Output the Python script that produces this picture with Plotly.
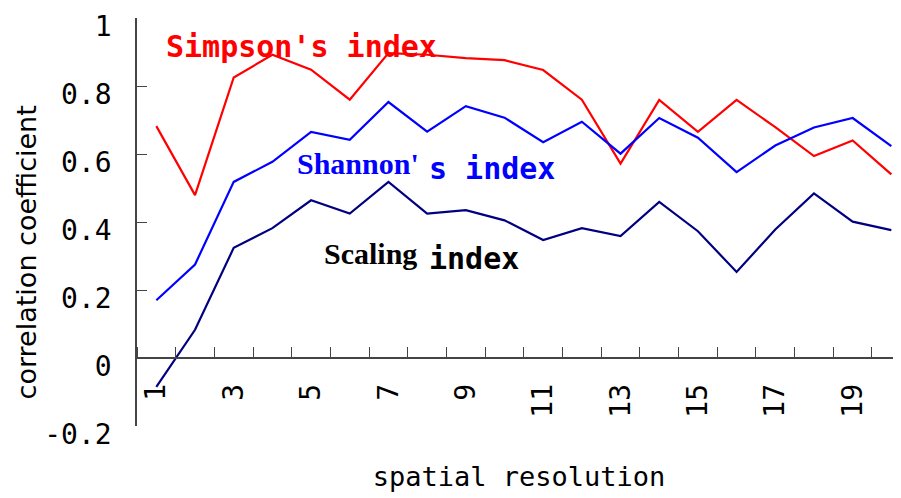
import plotly.graph_objects as go

resolution = list(range(1, 21))
simpson = [0.682, 0.479, 0.825, 0.892, 0.848, 0.760, 0.897, 0.892, 0.882, 0.876,
           0.847, 0.760, 0.572, 0.759, 0.665, 0.759, 0.679, 0.594, 0.640, 0.540]
shannon = [0.170, 0.275, 0.518, 0.577, 0.665, 0.642, 0.753, 0.666, 0.741, 0.707,
           0.635, 0.695, 0.601, 0.706, 0.648, 0.547, 0.625, 0.678, 0.706, 0.623]
scaling = [-0.085, 0.083, 0.324, 0.382, 0.464, 0.425, 0.518, 0.425, 0.435, 0.405,
           0.347, 0.382, 0.359, 0.459, 0.373, 0.253, 0.378, 0.484, 0.401, 0.376]

x_tickvals = [1, 3, 5, 7, 9, 11, 13, 15, 17, 19]
x_ticktext = ["1", "3", "5", "7", "9", "11", "13", "15", "17", "19"]
y_tickvals = [-0.2, 0, 0.2, 0.4, 0.6, 0.8, 1.0]
y_ticktext = ["-0.2", "0", "0.2", "0.4", "0.6", "0.8", "1"]

MONO = "DejaVu Sans Mono"
SERIF = "Liberation Serif"

fig = go.Figure()
fig.add_trace(go.Scatter(x=resolution, y=simpson, mode="lines", name="Simpson's index",
                         line=dict(color="#FF0000", width=2.2)))
fig.add_trace(go.Scatter(x=resolution, y=shannon, mode="lines", name="Shannon's index",
                         line=dict(color="#0000FF", width=2.2)))
fig.add_trace(go.Scatter(x=resolution, y=scaling, mode="lines", name="Scaling index",
                         line=dict(color="#000080", width=2.2)))

axis_color = "#444444"

fig.update_layout(
    width=901, height=498,
    margin=dict(l=129, r=8, t=9.5, b=80.3),
    paper_bgcolor="white", plot_bgcolor="white",
    showlegend=False,
    xaxis=dict(
        range=[0.5, 20.25], automargin=False,
        anchor="free", position=0.2 / 1.2,
        showgrid=False, zeroline=False,
        showline=True, linecolor=axis_color, linewidth=1.5,
        tickmode="array", tickvals=x_tickvals, ticktext=x_ticktext,
        ticks="", tickangle=-90, ticklabelstandoff=14,
        tickfont=dict(family=MONO, size=28, color="black"),
        minor=dict(tickmode="linear", tick0=0.5, dtick=1, ticks="inside",
                   ticklen=10, tickcolor=axis_color, tickwidth=1.2),
        title=dict(text="spatial resolution", standoff=49,
                   font=dict(family=MONO, size=27, color="black")),
    ),
    yaxis=dict(
        range=[-0.2, 1.0001], automargin=False,
        showgrid=False, zeroline=False,
        showline=True, linecolor=axis_color, linewidth=1.5,
        tickmode="array", tickvals=y_tickvals, ticktext=y_ticktext,
        ticks="inside", ticklen=10, tickcolor=axis_color, tickwidth=1.2,
        ticklabelstandoff=18, ticklabelshift=8, ticklabeloverflow="allow",
        tickfont=dict(family=MONO, size=28, color="black"),
    ),
)

annotations = [
    dict(text="correlation coefficient", xref="paper", yref="paper",
         x=-0.1453, y=0.4255, textangle=-90, xanchor="center", yanchor="middle",
         font=dict(family="DejaVu Sans", size=27, color="black")),
    dict(text="<b>Simpson's index</b>", x=1.21, y=0.917, xanchor="left",
         font=dict(family=MONO, size=30, color="#FF0000")),
    dict(text="<b>Shannon'</b>", x=4.575, y=0.573, xanchor="left",
         font=dict(family=SERIF, size=30, color="#0000FF")),
    dict(text="<b>s index</b>", x=7.99, y=0.558, xanchor="left",
         font=dict(family=MONO, size=30, color="#0000FF")),
    dict(text="<b>Scaling</b>", x=5.27, y=0.308, xanchor="left",
         font=dict(family=SERIF, size=30, color="black")),
    dict(text="<b>index</b>", x=7.99, y=0.293, xanchor="left",
         font=dict(family=MONO, size=30, color="black")),
]
for a in annotations:
    a.setdefault("xref", "x")
    a.setdefault("yref", "y")
    a["showarrow"] = False
    fig.add_annotation(**a)

fig.write_html("out.html")
